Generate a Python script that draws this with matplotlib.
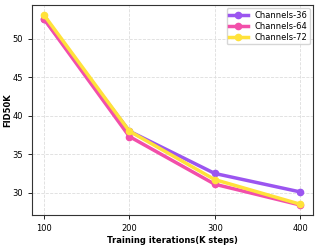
import matplotlib
matplotlib.use("Agg")
import matplotlib.pyplot as plt

steps = [100, 200, 300, 400]
ch36 = [52.6, 38.0, 32.5, 30.1]
ch64 = [52.6, 37.3, 31.1, 28.4]
ch72 = [53.1, 38.0, 31.7, 28.5]
labels = ["Channels-36", "Channels-64", "Channels-72"]
colors = ["#9B55F0", "#F24FAA", "#FFE23A"]

fig = plt.figure(figsize=(3.19, 2.45), dpi=100)
ax = fig.add_axes([32/319, 30/245, 281/319, 210/245])
for ys, lab, c in zip([ch36, ch64, ch72], labels, colors):
    ax.plot(steps, ys, color=c, lw=2.5, marker='o', ms=4.5, label=lab)
ax.set_xlim(86, 415)
ax.set_ylim(27.1, 54.4)
ax.set_xticks(steps)
ax.set_yticks([30, 35, 40, 45, 50])
ax.tick_params(labelsize=6, length=3, width=0.6)
ax.grid(True, ls='--', color='#dddddd', lw=0.6)
for s in ax.spines.values():
    s.set_linewidth(0.8)
    s.set_color('#333333')
ax.set_xlabel("Training iterations(K steps)", fontsize=6, fontweight='bold', labelpad=2)
ax.set_ylabel("FID50K", fontsize=6, fontweight='bold')
ax.yaxis.set_label_coords(-0.072, 0.5)
ax.legend(fontsize=6, loc='upper right', handlelength=2.2, borderpad=0.3,
          labelspacing=0.25, borderaxespad=0.4)
fig.savefig("out.png", dpi=100)
